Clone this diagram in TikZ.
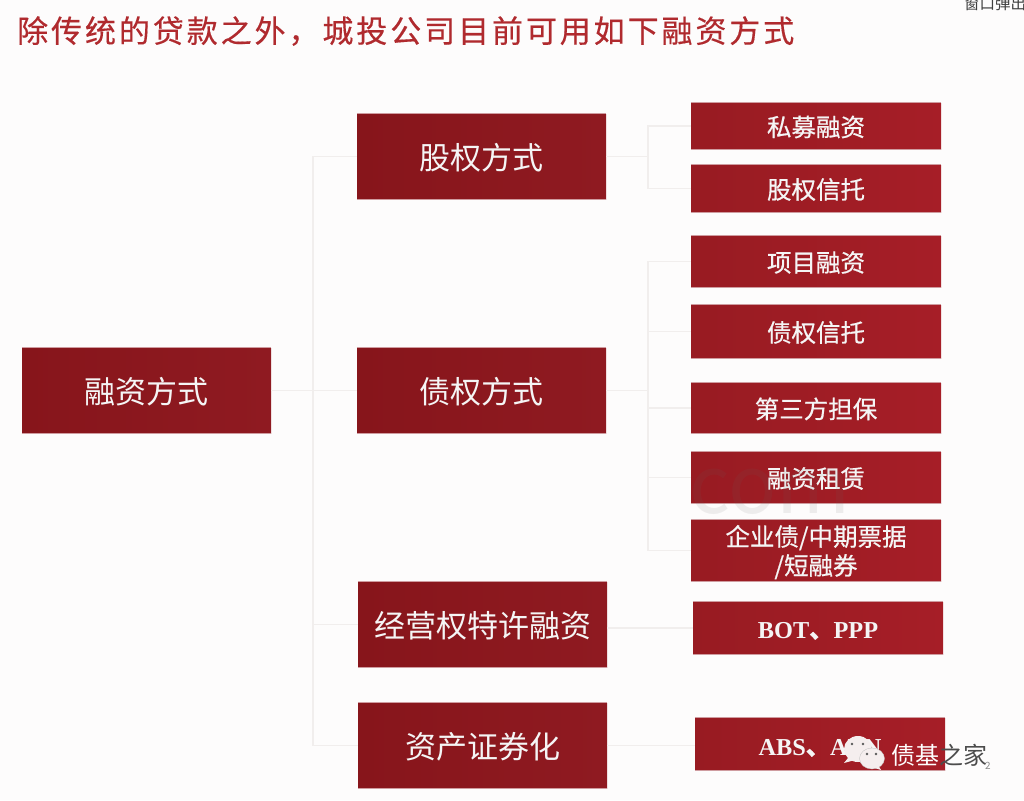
\documentclass[tikz,border=0pt]{standalone}
\usepackage{fontspec}
\setmainfont{Liberation Serif}
\newfontfamily\cjk{Noto Sans CJK SC}
\newfontfamily\cjkmid[FakeBold=0.6]{Noto Sans CJK SC}
\newfontfamily\titlefont[LetterSpace=9.4,FakeBold=0.4]{Noto Sans CJK SC}
\definecolor{bg}{HTML}{FDFCFC}
\definecolor{wire}{HTML}{F1EEED}
\definecolor{redA}{HTML}{87151B}
\definecolor{redB}{HTML}{8F1A21}
\definecolor{redC}{HTML}{981B22}
\definecolor{redD}{HTML}{A61E27}
\definecolor{edge}{HTML}{CF9CA0}
\definecolor{titlered}{HTML}{B02A2E}
\definecolor{bubble}{HTML}{F5EEEE}
\tikzset{
  x=1pt,y=-1pt,
  bigbox/.style={minimum width=249pt,minimum height=85pt,inner sep=0pt,
    left color=redA,right color=redB,
    text=white!96!black,text height=29pt,text depth=3pt,font=\cjk\fontsize{31}{35}\selectfont,
    append after command={(\tikzlastnode.north west) edge[draw=edge,line width=.8pt] (\tikzlastnode.north east)
      (\tikzlastnode.south west) edge[draw=edge,line width=.8pt] (\tikzlastnode.south east)}},
  smallbox/.style={minimum width=250pt,inner sep=0pt,align=center,
    left color=redC,right color=redD,
    text=white!96!black,font=\cjkmid\fontsize{24.5}{29}\selectfont,
    append after command={(\tikzlastnode.north west) edge[draw=edge,line width=1pt] (\tikzlastnode.north east)
      (\tikzlastnode.south west) edge[draw=edge,line width=1pt] (\tikzlastnode.south east)}},
  oneline/.style={text height=24pt,text depth=3.5pt},
  latinbox/.style={smallbox,font=\bfseries\fontsize{24.3}{28}\selectfont},
  wireline/.style={draw=wire,line width=1.6pt},
}
\begin{document}
\begin{tikzpicture}
\useasboundingbox (0,0) rectangle (1024,800);
\fill[bg] (0,0) rectangle (1024,800);
% title and corner text
\node[anchor=west,inner sep=0pt,text=titlered,font=\titlefont\fontsize{31}{34}\selectfont] (title) at (17,31) {除传统的贷款之外，城投公司目前可用如下融资方式};
\node[anchor=west,inner sep=0pt,text=black!75,font=\cjk\fontsize{15.5}{18}\selectfont] (corner) at (964,4) {窗口弹出};
% boxes
\node[bigbox] (root) at (146.5,390.5) {融资方式};
\node[bigbox] (a) at (481.5,156.5) {股权方式};
\node[bigbox] (b) at (481.5,390.5) {债权方式};
\node[bigbox] (c) at (482.5,624.5) {经营权特许融资};
\node[bigbox] (d) at (482.5,745.5) {资产证券化};
\node[smallbox,oneline,minimum height=46pt] (a1) at (816,126) {私募融资};
\node[smallbox,oneline,minimum height=47pt] (a2) at (816,188.5) {股权信托};
\node[smallbox,oneline,minimum height=51pt] (b1) at (816,261.5) {项目融资};
\node[smallbox,oneline,minimum height=53pt] (b2) at (816,331.5) {债权信托};
\node[smallbox,oneline,minimum height=50pt] (b3) at (816,408) {第三方担保};
\node[smallbox,oneline,minimum height=51pt] (b4) at (816,477.5) {融资租赁};
\node[smallbox,minimum height=61pt] (b5) at (816,550.5) {\rule{0pt}{24pt}企业债/中期票据\\/短融券};
\node[latinbox,minimum height=52pt,text height=22.5pt,text depth=2.5pt] (c1) at (818,628) {BOT{\cjkmid 、}PPP};
\node[latinbox,minimum height=52pt,text height=24pt,text depth=2pt] (d1) at (820,744) {ABS{\cjkmid 、}ABN};
% junctions
\coordinate (j0) at (313,390.5);
\coordinate (ja) at (648,156.5);
\coordinate (jb) at (648,390.5);
% connectors
\draw[wireline] (root.east) -- (j0);
\draw[wireline] (j0) |- (a.west);
\draw[wireline] (j0) -- (b.west);
\draw[wireline] (j0) |- (c.west);
\draw[wireline] (j0) |- (d.west);
\draw[wireline] (a.east) -- (ja);
\draw[wireline] (ja) |- (a1.west);
\draw[wireline] (ja) |- (a2.west);
\draw[wireline] (b.east) -- (jb);
\draw[wireline] (jb) |- (b1.west);
\draw[wireline] (jb) |- (b2.west);
\draw[wireline] (jb) |- (b3.west);
\draw[wireline] (jb) |- (b4.west);
\draw[wireline] (jb) |- (b5.west);
\draw[wireline] (c.east |- c1.west) -- (c1.west);
\draw[wireline] (d.east) -- (d.east -| d1.west);
% faint watermark
\node[opacity=.10,text=black!60,inner sep=0pt,font=\cjk\fontsize{80}{80}\selectfont] (wm) at (770,492) {com};
% WeChat mark
\fill[bubble] (858,749) ellipse (14 and 13);
\fill[bubble] (848,758) -- (844,763) -- (855,760) -- cycle;
\fill[bubble,draw=black!25,line width=.3pt] (872,758.5) ellipse (12.5 and 10.5);
\fill[bubble] (878,765) -- (881,770) -- (872,767) -- cycle;
\fill[black!65] (852,744) circle (1.3) (863,744) circle (1.3) (867,754) circle (1.3) (876,754) circle (1.3);
\node[anchor=west,inner sep=0pt,font=\cjk\fontsize{24}{28}\selectfont] (mark) at (891,755) {\textcolor{white}{债基}\textcolor{black!70}{之家}};
\node[inner sep=0pt,text=black!45,font=\cjk\fontsize{10}{12}\selectfont] (pg) at (988,766) {2};
\end{tikzpicture}
\end{document}
